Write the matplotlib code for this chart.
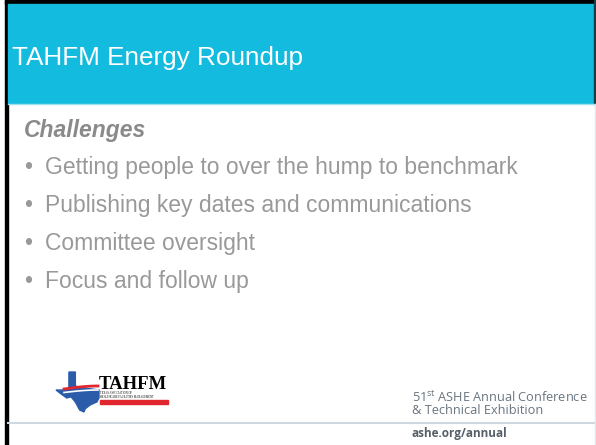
import numpy as np
import matplotlib.pyplot as plt
from matplotlib.patches import Rectangle, Polygon

plt.rcParams['mathtext.fontset'] = 'custom'
plt.rcParams['mathtext.rm'] = 'Open Sans'

# slide content
title = 'TAHFM Energy Roundup'
heading = 'Challenges'
bullets = ['Getting people to over the hump to benchmark',
           'Publishing key dates and communications',
           'Committee oversight',
           'Focus and follow up']
conf_lines = [r'51$^{\mathrm{st}}$ ASHE Annual Conference', '& Technical Exhibition']
conf_url = 'ashe.org/annual'
logo_name = 'TAHFM'
logo_sub = ['TEXAS ASSOCIATION OF', 'HEALTHCARE FACILITIES MANAGEMENT']

# rough Texas outline for the logo, unit box, y down
texas_x = [0.30, 0.45, 0.45, 0.60, 0.80, 1.00, 1.00, 0.95, 0.80, 0.68, 0.65, 0.55, 0.45, 0.35, 0.25, 0.12, 0.00, 0.30]
texas_y = [0.00, 0.00, 0.35, 0.40, 0.42, 0.45, 0.65, 0.75, 0.82, 0.92, 1.00, 0.95, 0.75, 0.62, 0.65, 0.55, 0.45, 0.45]

cyan = '#13bbdf'
grey = '#999999'

fig = plt.figure(figsize=(5.96, 4.45), dpi=100)
ax = fig.add_axes([0, 0, 1, 1])
ax.set_xlim(0, 596)
ax.set_ylim(445, 0)
ax.axis('off')

# frame and header band
ax.add_patch(Rectangle((5, 0), 591, 4, color='black'))
ax.add_patch(Rectangle((5, 0), 3, 445, color='black'))
ax.add_patch(Rectangle((8, 4), 586, 99, color=cyan))
ax.add_patch(Rectangle((594, 0), 2, 104, color='#1a3a44'))
ax.plot([595, 595], [104, 445], color='#e4e8ea', lw=1)
ax.plot([8, 594], [103.5, 103.5], color='#9fe0f0', lw=1)
ax.text(12, 58, title, color='white', fontsize=18.8, family='Liberation Sans', va='center', ha='left')

# body
ax.text(24, 130, heading, color='#8a8a8a', fontsize=16.5, family='Liberation Sans',
        fontweight='bold', fontstyle='italic', va='center')
for i, b in enumerate(bullets):
    y = 168 + i * 38
    ax.text(24, y + 6, '\u2022', color=grey, fontsize=16.5, family='Liberation Sans', va='baseline')
    ax.text(45, y + 6, b, color=grey, fontsize=16.5, family='Liberation Sans', va='baseline')

# footer
ax.plot([8, 594], [423, 423], color='#cfd8de', lw=1.5)
ax.text(412, 403.5, '\n'.join(conf_lines), color='#6a7580', fontsize=9.2, family='Open Sans',
        va='center', linespacing=0.82)
ax.text(412, 434, conf_url, color='#55606a', fontsize=8.5, family='Open Sans', fontweight='bold', va='center')

# logo
tx = 56 + np.array(texas_x) * 43
ty = 372 + np.array(texas_y) * 40
ax.add_patch(Polygon(np.column_stack([tx, ty]), closed=True, color='#2a5caa'))
sx = np.linspace(64, 98, 30)
ax.plot(sx, 389 - 3 * np.sin((sx - 64) / 34 * np.pi / 2), color='#e0262f', lw=2)
ax.plot(sx, 392.5 - 2.5 * np.sin((sx - 64) / 34 * np.pi / 2), color='white', lw=1.2)
ax.text(99, 389, logo_name, color='black', fontsize=13.5, family='Liberation Serif', fontweight='bold', va='baseline')
ax.text(100, 395.5, '\n'.join(logo_sub), color='black', fontsize=2.0, family='Liberation Serif',
        va='center', linespacing=1.0)
ax.add_patch(Rectangle((100, 400), 68, 3.5, color='#e0262f'))

fig.savefig('out.png', dpi=100)
